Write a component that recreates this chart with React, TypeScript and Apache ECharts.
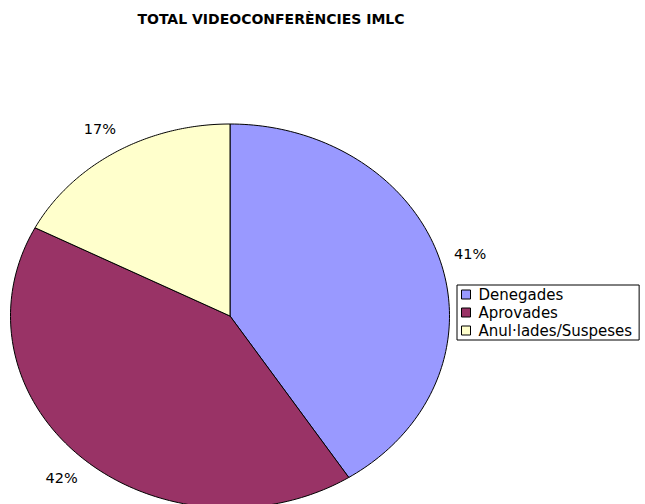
import React, { useEffect, useRef } from "react";
import * as echarts from "echarts";

const categories = ["Denegades", "Aprovades", "Anul·lades/Suspeses"];
const percentages = [40.9, 41.7, 17.4];
const colors = ["#9999FF", "#993366", "#FFFFCC"];
const chartTitle = "TOTAL VIDEOCONFERÈNCIES IMLC";

const CX = 230;
const CY = 316;
const RX = 219.5;
const RY = 192;
const LABEL_FACTOR = 1.14;
const FONT = "'DejaVu Sans', sans-serif";

export default function App() {
  const ref = useRef<HTMLDivElement>(null);

  useEffect(() => {
    if (!ref.current) return;
    const chart = echarts.init(ref.current, null, { renderer: "svg" });
    const total = percentages.reduce((a, b) => a + b, 0);

    const renderItem = (params: any, api: any) => {
      const i = params.dataIndex;
      const before = percentages.slice(0, i).reduce((a, b) => a + b, 0);
      const v = api.value(0);
      const start = (before / total) * Math.PI * 2;
      const end = start + (v / total) * Math.PI * 2;
      const pts: number[][] = [[CX, CY]];
      const N = 120;
      for (let k = 0; k <= N; k++) {
        const a = start + ((end - start) * k) / N;
        pts.push([CX + RX * Math.sin(a), CY - RY * Math.cos(a)]);
      }
      const mid = (start + end) / 2;
      const lx = CX + RX * LABEL_FACTOR * Math.sin(mid);
      const ly = CY - RY * LABEL_FACTOR * Math.cos(mid);
      return {
        type: "group",
        children: [
          {
            type: "polygon",
            shape: { points: pts },
            style: { fill: colors[i], stroke: "#000", lineWidth: 1 },
          },
          {
            type: "text",
            x: lx,
            y: ly,
            style: {
              text: Math.round((v / total) * 100) + "%",
              fill: "#000",
              fontSize: 14.5,
              fontFamily: FONT,
              align: "center",
              verticalAlign: "middle",
              textAlign: "center",
              textVerticalAlign: "middle",
            },
          },
        ],
      };
    };

    const legendSeries = categories.map((name, k) => ({
      type: "custom",
      name,
      coordinateSystem: "none",
      data: [],
      renderItem: () => null,
      itemStyle: { color: colors[k] },
    }));

    chart.setOption({
      animation: false,
      backgroundColor: "#fff",
      graphic: [
        {
          type: "text",
          x: 271,
          y: 19,
          style: {
            text: chartTitle,
            fill: "#000",
            fontSize: 14,
            fontWeight: "bold",
            fontFamily: FONT,
            align: "center",
            verticalAlign: "middle",
            textAlign: "center",
            textVerticalAlign: "middle",
          },
        },
      ],
      legend: {
        data: categories,
        orient: "vertical",
        left: 457,
        top: 285,
        padding: [2, 7, 2, 4],
        itemGap: 3,
        itemWidth: 9,
        itemHeight: 9,
        icon: "rect",
        borderColor: "#000",
        borderWidth: 1,
        itemStyle: { borderColor: "#000", borderWidth: 1 },
        textStyle: {
          fontFamily: FONT,
          fontSize: 15,
          color: "#000",
          padding: [0, 0, 0, 3],
        },
        selectedMode: false,
      },
      series: [
        {
          type: "custom",
          name: "Videoconferències",
          coordinateSystem: "none",
          data: percentages.map((p, i) => ({ name: categories[i], value: [p] })),
          renderItem,
          silent: true,
        },
        ...legendSeries,
      ],
    });

    return () => chart.dispose();
  }, []);

  return (
    <div
      ref={ref}
      style={{ position: "fixed", left: 0, top: 0, width: 645, height: 504 }}
    />
  );
}
